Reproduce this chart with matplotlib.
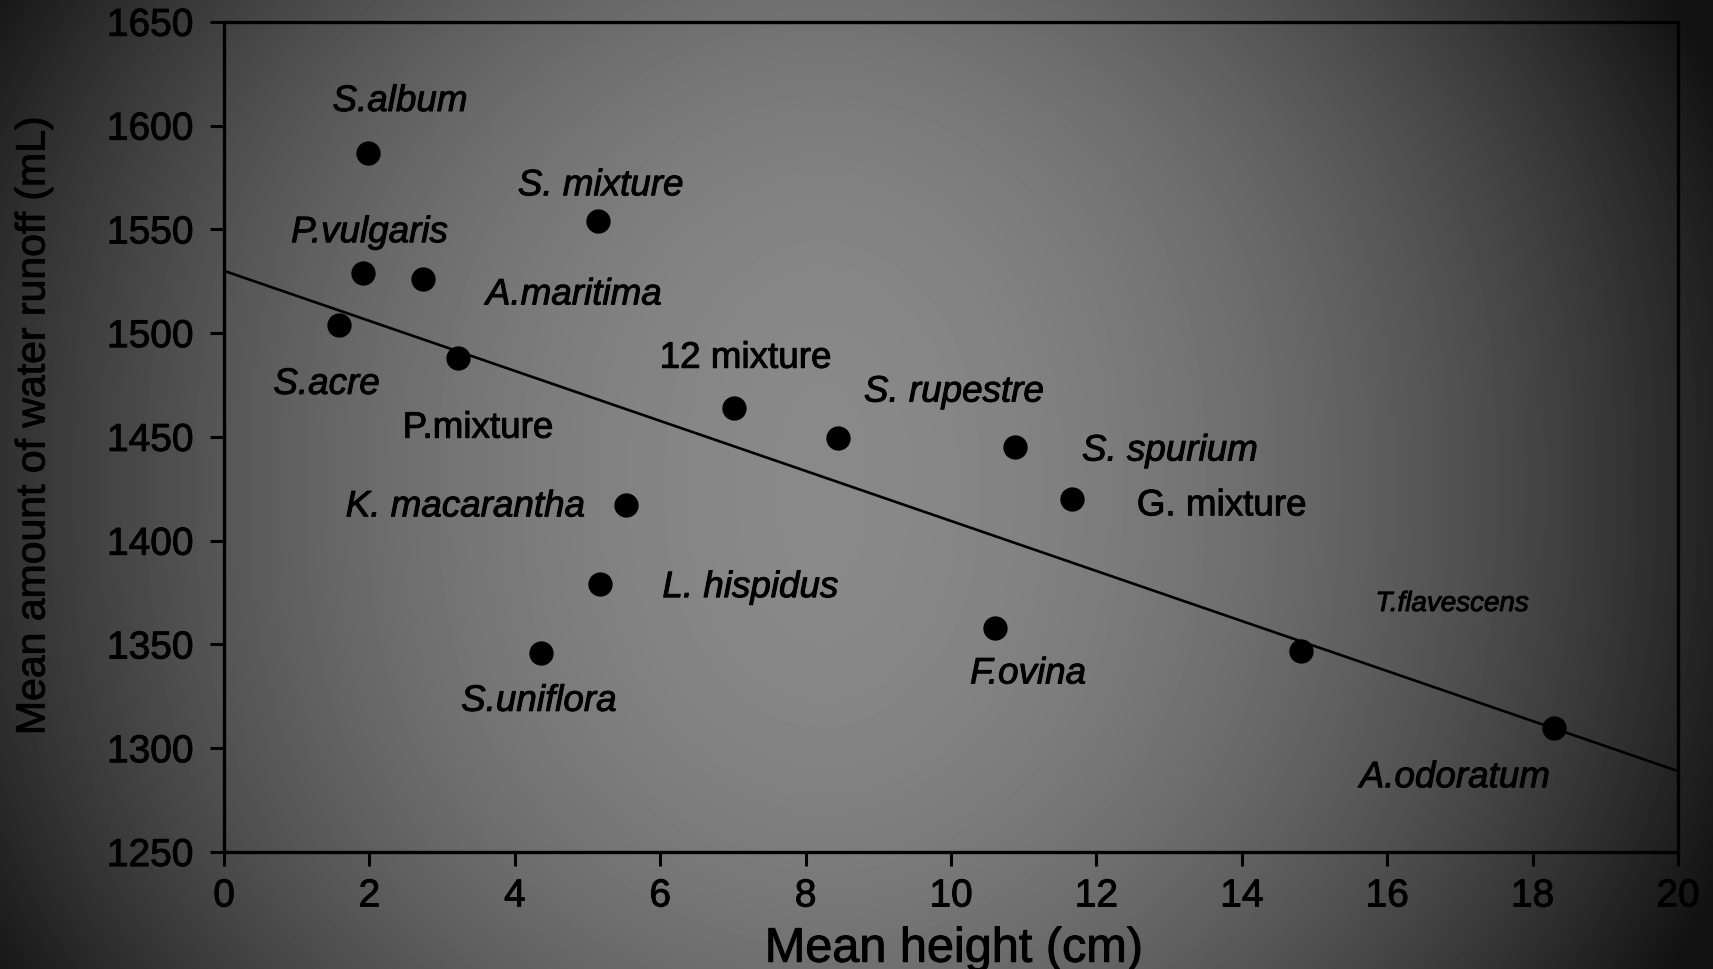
import numpy as np
import matplotlib
matplotlib.use("Agg")
import matplotlib.pyplot as plt
import matplotlib.patheffects as pe

plt.rcParams['font.family'] = ['Liberation Sans', 'DejaVu Sans']

# species means
species = ["S.album", "S. mixture", "P.vulgaris", "A.maritima", "S.acre",
           "P.mixture", "12 mixture", "S. rupestre", "S. spurium", "G. mixture",
           "K. macarantha", "L. hispidus", "F.ovina", "S.uniflora",
           "T.flavescens", "A.odoratum"]
height_cm = [1.98, 5.14, 1.91, 2.73, 1.58, 3.22, 7.02, 8.44, 10.88, 11.66,
             5.53, 5.17, 10.61, 4.36, 14.82, 18.30]
runoff_ml = [1587, 1554, 1529, 1526, 1504, 1488, 1464, 1449.5, 1445, 1420,
             1417, 1379, 1358, 1346, 1347, 1310]

# regression line as drawn
fit_intercept = 1530.0
fit_slope = -12.05

x_ticks = list(range(0, 21, 2))
y_ticks = list(range(1250, 1651, 50))

# where each label sits (data coords) and whether it is italic
label_pos = [(2.42, 1611.6), (5.18, 1571), (2.0, 1548.4), (4.81, 1518.4),
             (1.41, 1475.3), (3.49, 1454.2), (7.17, 1487.9), (10.04, 1471.6),
             (13.01, 1443.2), (13.72, 1416.8), (3.32, 1416.3), (7.24, 1377.4),
             (11.06, 1335.8), (4.33, 1322.6), (16.89, 1369.5), (16.93, 1285.8)]
upright = {"P.mixture", "12 mixture", "G. mixture"}

# slightly heavier strokes, like the scanned print
ink = [pe.withStroke(linewidth=0.7, foreground='black')]

W, H = 1713, 969
fig = plt.figure(figsize=(W / 100, H / 100), dpi=100)

# scanned-slide style vignette background
bg = fig.add_axes([0, 0, 1, 1], zorder=-10)
xx, yy = np.meshgrid(np.linspace(0, 1, 400), np.linspace(0, 1, 240))
u = (xx - 0.48) * 2
w = (yy - 0.5) * 2
v = 137 - 95 * np.abs(u) ** 1.8 - 25 * np.abs(w) ** 2.5
v = np.clip(v, 18, 255) / 255
bg.imshow(v, cmap='gray', vmin=0, vmax=1, extent=[0, 1, 0, 1],
          aspect='auto', interpolation='bilinear')
bg.axis('off')

ax = fig.add_axes([0.1308, 0.1207, 0.9796 - 0.1308, 0.9775 - 0.1207])
ax.set_facecolor('none')

ax.plot(height_cm, runoff_ml, 'o', color='black', markersize=16.5, zorder=3)

xs = np.array([0, 20])
ax.plot(xs, fit_intercept + fit_slope * xs, color='black', lw=1.9)

for name, (lx, ly) in zip(species, label_pos):
    size = 20 if name == "T.flavescens" else 26.5
    ax.text(lx, ly, name, ha='center', va='center', fontsize=size,
            style='normal' if name in upright else 'italic', color='black',
            path_effects=ink)

ax.set_xlim(0, 20)
ax.set_ylim(1250, 1650)
ax.set_xticks(x_ticks)
ax.set_yticks(y_ticks)
ax.tick_params(axis='both', labelsize=28, width=2.2, length=10, color='black')
ax.tick_params(axis='y', pad=12)
ax.tick_params(axis='x', pad=9)
for lab in ax.get_xticklabels() + ax.get_yticklabels():
    lab.set_path_effects(ink)
for s in ax.spines.values():
    s.set_linewidth(2.4)

ax.set_xlabel("Mean height (cm)", fontsize=35, path_effects=ink)
ax.set_ylabel("Mean amount of water runoff (mL)", fontsize=29.5, path_effects=ink)
ax.xaxis.set_label_coords(0.502, -0.09)
ax.yaxis.set_label_coords(-0.118, 0.514)

fig.savefig("out.png", dpi=100)
